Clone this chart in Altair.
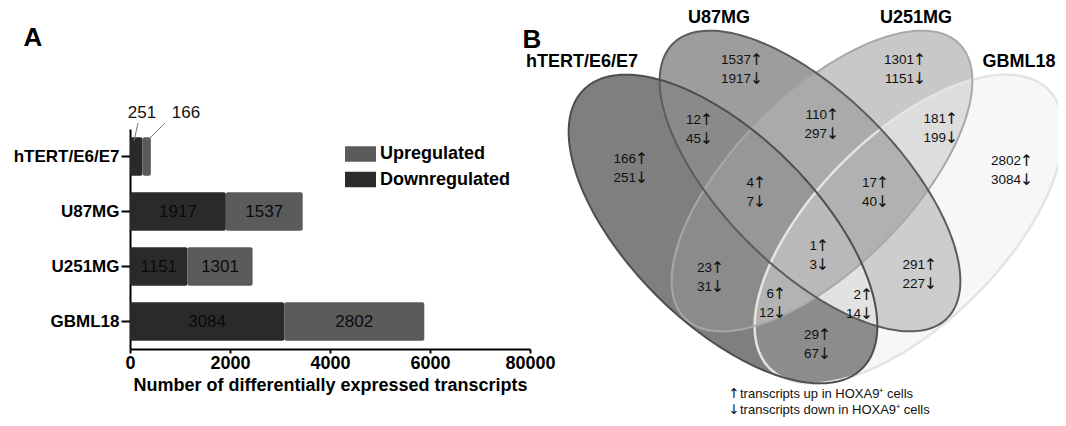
import numpy as np
import pandas as pd
import altair as alt

FONT = "Liberation Sans, Arial, Helvetica, sans-serif"
ARROW_FONT = "DejaVu Sans, Liberation Sans, sans-serif"
INK = "#111111"

# ---------------- Panel A: stacked bars ----------------
cells = ["hTERT/E6/E7", "U87MG", "U251MG", "GBML18"]
down = [251, 1917, 1151, 3084]
up = [166, 1537, 1301, 2802]
x_ticks = [0, 2000, 4000, 6000, 8000]
dir_names = ["Upregulated", "Downregulated"]
dir_colors = ["#5b5b5b", "#2a2a2a"]
inbar_cells = ["U87MG", "U251MG", "GBML18"]

# small labels above the hTERT bar (annotation, reference pixel coords)
small_labels = ["251", "166"]
small_label_x = [142, 186]
small_label_y = [113, 113]
leader_x1 = [138, 165]
leader_y1 = [123, 123]
leader_x2 = [134, 147]
leader_y2 = [141, 141]

# ---------------- Panel B: four-ellipse Venn ----------------
set_keys = ["A", "B", "C", "D"]
set_names = ["hTERT/E6/E7", "U87MG", "U251MG", "GBML18"]
set_label_x = [582, 719, 916, 1019]
set_label_y = [62, 18, 18, 62]
ell_cx = [723, 810, 822, 909]
ell_cy = [229, 181, 181, 229]
ell_semi_major = [197, 194, 194, 197]
ell_semi_minor = [94, 87, 87, 94]
ell_angle = [45, 45, -45, -45]
ell_stroke = ["#4e4e4e", "#5c5c5c", "#a8a8a8", "#e4e4e4"]
ell_stroke_w = [2, 2, 2, 2.5]
stroke_order = ["D", "C", "B", "A"]

region_keys = ["A", "B", "C", "D", "AB", "AC", "AD", "BC", "BD", "CD",
               "ABC", "ABD", "ACD", "BCD", "ABCD"]
region_fill = ["#7f7f7f", "#9d9d9d", "#c8c8c8", "#f7f7f7", "#8a8a8a", "#8b8b8b",
               "#8c8c8c", "#aaaaaa", "#cdcdcd", "#dddddd", "#979797", "#e2e2e2",
               "#b3b3b3", "#b1b1b1", "#b9b9b9"]

lab_up = [1537, 1301, 166, 12, 110, 181, 2802, 4, 17, 1, 23, 291, 6, 2, 29]
lab_down = [1917, 1151, 251, 45, 297, 199, 3084, 7, 40, 3, 31, 227, 12, 14, 67]
lab_x = [760, 923, 645, 710, 836, 955, 1030, 763, 886, 826, 721, 934, 783, 870, 828]
lab_y = [60, 60, 159, 120, 115, 119, 161, 183, 183, 246, 268, 265, 294, 295, 335]
line_gap = 19
arrow_up = "\u2191"
arrow_down = "\u2193"

note_text = ["transcripts up in HOXA9\u207a cells",
             "transcripts down in HOXA9\u207a cells"]
note_arrows = [arrow_up, arrow_down]
note_x = [740, 740]
note_y = [394, 410]

panel_letters = ["A", "B"]
panel_letter_x = [33, 532]
panel_letter_y = [38, 40]

# ---------------- geometry helpers ----------------
def ell_interval(i, xs):
    th = np.radians(ell_angle[i])
    c, s = np.cos(th), np.sin(th)
    a2, b2 = ell_semi_major[i] ** 2, ell_semi_minor[i] ** 2
    P = s * s / a2 + c * c / b2
    Q = c * s * (1 / a2 - 1 / b2)
    R = c * c / a2 + s * s / b2
    dx = xs - ell_cx[i]
    disc = (Q * dx) ** 2 - P * (R * dx * dx - 1)
    ok = disc >= 0
    sq = np.sqrt(np.where(ok, disc, 0))
    lo = ell_cy[i] + (-Q * dx - sq) / P
    hi = ell_cy[i] + (-Q * dx + sq) / P
    return np.where(ok, lo, np.inf), np.where(ok, hi, -np.inf)


def subset_interval(keys, xs):
    lo = np.full_like(xs, -np.inf)
    hi = np.full_like(xs, np.inf)
    for k in keys:
        l, h = ell_interval(set_keys.index(k), xs)
        lo = np.maximum(lo, l)
        hi = np.minimum(hi, h)
    return lo, hi


def refine(keys, xa, xb):
    for _ in range(30):
        xm = 0.5 * (xa + xb)
        l, h = subset_interval(keys, np.array([xm]))
        if h[0] - l[0] > 0:
            xb = xm
        else:
            xa = xm
    l, h = subset_interval(keys, np.array([xb]))
    return xb, 0.5 * (l[0] + h[0])


grid = np.arange(550.0, 1075.0, 0.5)
reg_rows = []
for k in region_keys:
    lo, hi = subset_interval(k, grid)
    valid = np.where(hi - lo > 0)[0]
    f, l = valid[0], valid[-1]
    xl, ml = refine(k, grid[f - 1], grid[f])
    xr, mr = refine(k, grid[l + 1], grid[l])
    reg_rows.append((k, xl, ml, ml))
    for j in valid:
        reg_rows.append((k, grid[j], lo[j], hi[j]))
    reg_rows.append((k, xr, mr, mr))
reg_df = pd.DataFrame(reg_rows, columns=["region", "X", "lo", "hi"]).round(2)

out_rows = []
tt = np.linspace(0, 2 * np.pi, 241)
for i, k in enumerate(set_keys):
    th = np.radians(ell_angle[i])
    c, s = np.cos(th), np.sin(th)
    a, b = ell_semi_major[i], ell_semi_minor[i]
    for j, t in enumerate(tt):
        out_rows.append((k, j, ell_cx[i] + a * np.cos(t) * c - b * np.sin(t) * s,
                         ell_cy[i] + a * np.cos(t) * s + b * np.sin(t) * c))
out_df = pd.DataFrame(out_rows, columns=["key", "i", "X", "Y"]).round(2)

# ---------------- tables ----------------
bar_rows = []
for c_, d_, u_ in zip(cells, down, up):
    bar_rows.append((c_, "Downregulated", 0, d_))
    bar_rows.append((c_, "Upregulated", d_, d_ + u_))
bar_df = pd.DataFrame(bar_rows, columns=["cell", "dir", "x0", "x1"])

txt_rows = []
for c_, d_, u_ in zip(cells, down, up):
    if c_ in inbar_cells:
        txt_rows.append((c_, d_ / 2, str(d_)))
        txt_rows.append((c_, d_ + u_ / 2, str(u_)))
txt_df = pd.DataFrame(txt_rows, columns=["cell", "mid", "t"])

num_rows, arr_rows = [], []
for u_, d_, x_, y_ in zip(lab_up, lab_down, lab_x, lab_y):
    num_rows.append((x_ - 9, y_, str(u_)))
    num_rows.append((x_ - 9, y_ + line_gap, str(d_)))
    arr_rows.append((x_ - 3.5, y_, arrow_up))
    arr_rows.append((x_ - 3.5, y_ + line_gap, arrow_down))
num_df = pd.DataFrame(num_rows, columns=["X", "Y", "t"])
arr_df = pd.DataFrame(arr_rows, columns=["X", "Y", "t"])
note_arr_df = pd.DataFrame({"X": [x_ - 6 for x_ in note_x], "Y": note_y, "t": note_arrows})

set_df = pd.DataFrame({"X": set_label_x, "Y": set_label_y, "t": set_names})
note_df = pd.DataFrame({"X": note_x, "Y": note_y, "t": note_text})
letter_df = pd.DataFrame({"X": panel_letter_x, "Y": panel_letter_y, "t": panel_letters})
small_df = pd.DataFrame({"X": small_label_x, "Y": small_label_y, "t": small_labels})
leader_df = pd.DataFrame({"X": leader_x1, "Y": leader_y1, "X2": leader_x2, "Y2": leader_y2})

# ---------------- panel A chart ----------------
x_axis = alt.Axis(values=x_ticks, format="d",
                  labelExpr="datum.value == 8000 ? '80000' : datum.label",
                  labelFont=FONT, labelFontSize=18, labelFontWeight="bold", labelColor="black",
                  labelFlush=False, labelOverlap=False, labelPadding=1,
                  domainColor="black", domainWidth=2, tickColor="black", tickWidth=2, tickSize=4,
                  grid=False, title="Number of differentially expressed transcripts",
                  titleFont=FONT, titleFontSize=18, titleFontWeight="bold", titleColor="black",
                  titlePadding=4)
y_axis = alt.Axis(title=None, labelFont=FONT, labelFontSize=17, labelFontWeight="bold",
                  labelColor="black", labelPadding=2, domainColor="black", domainWidth=2,
                  tickColor="black", tickWidth=2, tickSize=9, grid=False)
x_scale = alt.Scale(domain=[0, 8000], nice=False, zero=True)
y_scale = alt.Scale(domain=cells, paddingInner=0.3, paddingOuter=0.15)

bars = alt.Chart(bar_df).mark_bar(cornerRadius=2).encode(
    x=alt.X("x0:Q", scale=x_scale, axis=x_axis),
    x2="x1:Q",
    y=alt.Y("cell:N", sort=cells, scale=y_scale, axis=y_axis),
    color=alt.Color("dir:N", scale=alt.Scale(domain=dir_names, range=dir_colors),
                    legend=alt.Legend(title=None, orient="none", legendX=215, legendY=9.5,
                                      symbolType="M-1,-0.5H1V0.5H-1Z", symbolSize=961,
                                      symbolStrokeWidth=0, symbolOpacity=1,
                                      labelFont=FONT, labelFontSize=18, labelFontWeight="bold",
                                      labelColor="black", labelOffset=4, rowPadding=0.5)),
)
bar_text = alt.Chart(txt_df).mark_text(font=FONT, fontSize=17, color="#0a0a0a",
                                       baseline="middle").encode(
    x=alt.X("mid:Q", scale=x_scale, axis=x_axis),
    y=alt.Y("cell:N", sort=cells, scale=y_scale, axis=y_axis),
    text="t:N",
)
panel_a = alt.layer(bars, bar_text)

# ---------------- panel B chart (pixel scales) ----------------
XS = alt.Scale(domain=[130, 530], nice=False, zero=False)
YS = alt.Scale(domain=[129, 349], nice=False, zero=False, reverse=True)


def px(f):
    return alt.X(f, type="quantitative", scale=XS, axis=None)


def py(f):
    return alt.Y(f, type="quantitative", scale=YS, axis=None)


layers = []
for k, col in zip(region_keys, region_fill):
    layers.append(
        alt.Chart(reg_df).transform_filter(alt.datum.region == k)
        .mark_area(color=col, opacity=1, strokeWidth=0)
        .encode(x=px("X"), y=py("lo"), y2=alt.Y2("hi"))
    )
for k in stroke_order:
    i = set_keys.index(k)
    layers.append(
        alt.Chart(out_df).transform_filter(alt.datum.key == k)
        .mark_line(color=ell_stroke[i], strokeWidth=ell_stroke_w[i])
        .encode(x=px("X"), y=py("Y"), order="i:Q")
    )
layers.append(alt.Chart(num_df).mark_text(font=FONT, fontSize=13.5, color=INK, align="right",
                                          baseline="middle").encode(x=px("X"), y=py("Y"), text="t:N"))
layers.append(alt.Chart(arr_df).mark_text(font=ARROW_FONT, fontSize=16, color=INK, align="center",
                                          baseline="middle").encode(x=px("X"), y=py("Y"), text="t:N"))
layers.append(alt.Chart(note_arr_df).mark_text(font=ARROW_FONT, fontSize=13.5, color=INK, align="center",
                                               baseline="middle").encode(x=px("X"), y=py("Y"), text="t:N"))
layers.append(alt.Chart(set_df).mark_text(font=FONT, fontSize=18, fontWeight="bold", color="black",
                                          align="center", baseline="middle").encode(
    x=px("X"), y=py("Y"), text="t:N"))
layers.append(alt.Chart(letter_df).mark_text(font=FONT, fontSize=26, fontWeight="bold", color="black",
                                             align="center", baseline="middle").encode(
    x=px("X"), y=py("Y"), text="t:N"))
layers.append(alt.Chart(note_df).mark_text(font=FONT, fontSize=13, color=INK, align="left",
                                           baseline="middle").encode(x=px("X"), y=py("Y"), text="t:N"))
layers.append(alt.Chart(leader_df).mark_rule(color="#777777", strokeWidth=1).encode(
    x=px("X"), y=py("Y"), x2=alt.X2("X2"), y2=alt.Y2("Y2")))
layers.append(alt.Chart(small_df).mark_text(font=FONT, fontSize=17, color=INK, align="center",
                                            baseline="middle").encode(x=px("X"), y=py("Y"), text="t:N"))
panel_b = alt.layer(*layers)

chart = (
    alt.layer(panel_a, panel_b)
    .resolve_scale(x="independent", y="independent")
    .properties(width=400, height=220,
                padding={"left": 122, "top": 121, "right": 528, "bottom": 69},
                autosize=alt.AutoSizeParams(type="none"),
                background="white")
    .configure_view(stroke=None)
)

chart.save("out.html", embed_options={"renderer": "svg", "actions": False})
